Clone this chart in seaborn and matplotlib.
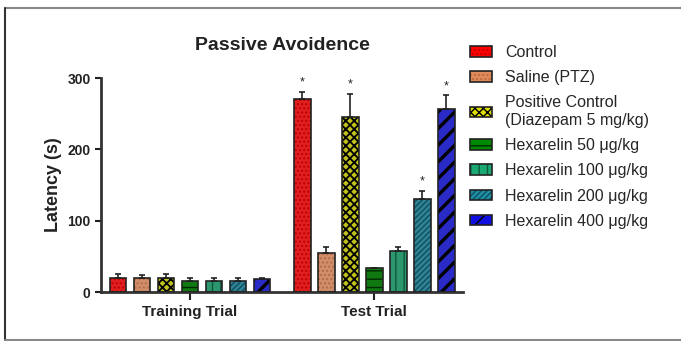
import numpy as np
import pandas as pd
import seaborn as sns
import matplotlib.pyplot as plt
from matplotlib.patches import Rectangle
from matplotlib.lines import Line2D

trials = ['Training Trial', 'Test Trial']
groups = ['Control', 'Saline (PTZ)', 'Positive Control\n(Diazepam 5 mg/kg)',
          'Hexarelin 50 \u03bcg/kg', 'Hexarelin 100 \u03bcg/kg',
          'Hexarelin 200 \u03bcg/kg', 'Hexarelin 400 \u03bcg/kg']
training_mean = [20, 19, 19, 16, 16, 16, 18]
training_err = [5, 5, 6, 4, 3, 3, 2]
test_mean = [271, 54, 245, 33, 58, 131, 256]
test_err = [10, 9, 33, 1, 5, 11, 20]
significant = [True, False, True, False, False, True, True]

colors = ['#ff0000', '#e0895a', '#dede00', '#008a00', '#1aa873', '#1f8fa6', '#1010e0']
hatch_colors = ['#c00000', '#b86a40', '#000000', '#002a00', '#0c5a3a', '#0d4f60', '#000000']
hatches = ['....', '....', 'xxxx', '--', '||', '//////', '//']
hatch_lw = [1.0, 1.0, 1.3, 1.0, 1.0, 1.0, 2.4]
outline = '#222222'

df = pd.DataFrame({
    'trial': np.repeat(trials, len(groups)),
    'group': groups * 2,
    'latency': training_mean + test_mean,
    'err': training_err + test_err,
})

sns.set_style('ticks')
plt.rcParams['font.family'] = ['Liberation Sans', 'DejaVu Sans']


def style_patch(p, i):
    # hatch colour follows the edge colour, so the outline is drawn separately
    p.set_hatch(hatches[i])
    p.set_edgecolor(hatch_colors[i])
    p.set_linewidth(0)
    if hasattr(p, 'set_hatch_linewidth'):
        p.set_hatch_linewidth(hatch_lw[i])


fig = plt.figure(figsize=(6.81, 3.41), dpi=100)
ax = fig.add_axes([101 / 681, 49 / 341, 362 / 681, 214 / 341])

sns.barplot(data=df, x='trial', y='latency', hue='group', hue_order=groups,
            palette=colors, errorbar=None, width=0.913, gap=0.3, ax=ax,
            legend=False)

# style each bar, add one-sided error bars
bar_containers = list(ax.containers)
for gi, cont in enumerate(bar_containers):
    for ti, bar in enumerate(cont):
        style_patch(bar, gi)
        ax.add_patch(Rectangle(bar.get_xy(), bar.get_width(), bar.get_height(),
                               fill=False, edgecolor=outline, linewidth=1.2, zorder=3))
        x = bar.get_x() + bar.get_width() / 2
        h = bar.get_height()
        e = df[(df.trial == trials[ti]) & (df.group == groups[gi])]['err'].iloc[0]
        ax.errorbar(x, h, yerr=[[0], [e]], color=outline, capsize=2.5,
                    elinewidth=1.2, capthick=1.2, zorder=3)
        if ti == 1 and significant[gi]:
            ax.text(x, h + e + 4, '*', ha='center', va='bottom', fontsize=9,
                    color=outline)

ax.set_ylim(0, 300)
ax.set_xlim(-0.484, 1.483)
ax.set_yticks([0, 100, 200, 300])
ax.set_xlabel('')
ax.set_ylabel('Latency (s)', fontsize=13, fontweight='bold', color='#222222')
ax.tick_params(axis='y', labelsize=10, width=1.5, length=4, colors='#222222')
ax.tick_params(axis='x', labelsize=11, width=1.5, length=6, colors='#222222',
               direction='out')
for lab in ax.get_xticklabels() + ax.get_yticklabels():
    lab.set_fontweight('bold')
sns.despine(ax=ax)
for s in ['left', 'bottom']:
    ax.spines[s].set_linewidth(2)
    ax.spines[s].set_color('#333333')
ax.set_title('Passive Avoidence', fontsize=14, fontweight='bold', pad=20,
             color='#222222')

handles = []
for i, c in enumerate(colors):
    r = Rectangle((0, 0), 1, 1, facecolor=c)
    style_patch(r, i)
    o = Rectangle((0, 0), 1, 1, fill=False, edgecolor=outline, linewidth=1.2)
    handles.append((r, o))
fig.legend(handles, groups, loc='upper left', bbox_to_anchor=(470 / 681, 1 - 45 / 341),
           frameon=False, fontsize=11.5, handlelength=1.4, handleheight=0.65,
           labelspacing=0.64, handletextpad=0.8, borderpad=0, borderaxespad=0)

# outer frame
fig.add_artist(Line2D([5 / 681, 1.0], [1 - 8 / 341, 1 - 8 / 341],
                      transform=fig.transFigure, color='#888888', lw=1.5))
fig.add_artist(Line2D([5 / 681, 5 / 681], [1 / 341, 1 - 8 / 341],
                      transform=fig.transFigure, color='#333333', lw=1.5))
fig.add_artist(Line2D([5 / 681, 1.0], [1.5 / 341, 1.5 / 341],
                      transform=fig.transFigure, color='#888888', lw=1.5))

fig.savefig('out.png', dpi=100)
